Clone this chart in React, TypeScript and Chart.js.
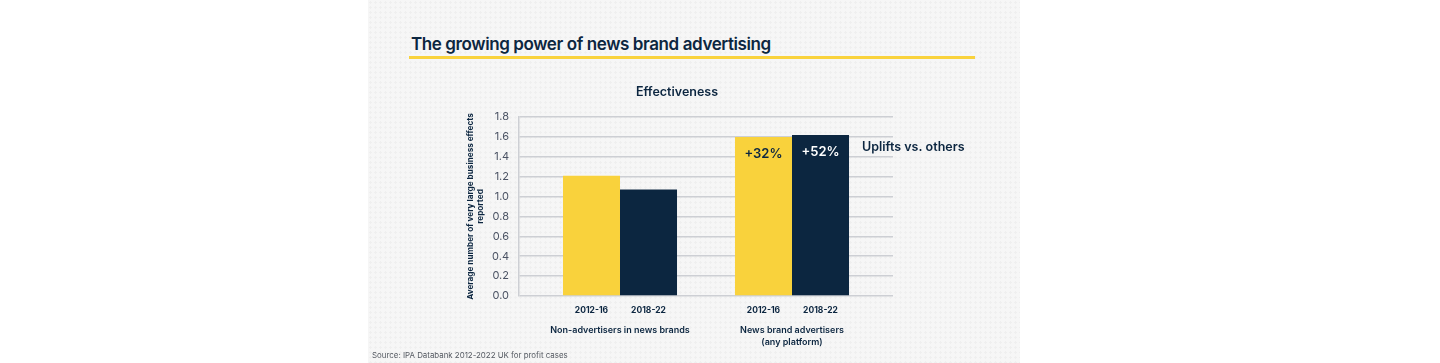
import React, { useEffect, useRef } from "react";
import { Chart, registerables } from "chart.js";

Chart.register(...registerables);

// ---- data ----
const groupLabels: (string | string[])[] = [
  "Non-advertisers in news brands",
  ["News brand advertisers", "(any platform)"],
];
const periods = ["2012-16", "2018-22"];
const groupPositions = [1, 2];
const values2012 = [1.21, 1.6];
const values2018 = [1.07, 1.62];
const uplifts2012 = ["", "+32%"];
const uplifts2018 = ["", "+52%"];
const noteText = "Uplifts vs. others";
const yMin = 0;
const yMax = 1.8;
const yStep = 0.2;

// ---- styles ----
const YELLOW = "#f9d23c";
const NAVY = "#0c2640";
const GRID = "#cdcfd4";
const FONT = "Inter, 'Noto Sans', sans-serif";
const CATEGORY_PCT = 0.663;
const X_MIN = 0.4128;
const X_MAX = 2.5872;

const upliftPlugin = {
  id: "upliftLabels",
  afterDatasetsDraw(chart: any) {
    const ctx = chart.ctx;
    ctx.save();
    ctx.textAlign = "center";
    ctx.textBaseline = "middle";
    ctx.font = `600 13px ${FONT}`;
    const sets = [uplifts2012, uplifts2018];
    const colors = [NAVY, "#ffffff"];
    chart.data.datasets.forEach((_ds: any, di: number) => {
      const meta = chart.getDatasetMeta(di);
      meta.data.forEach((bar: any, i: number) => {
        const t = sets[di][i];
        if (!t) return;
        ctx.fillStyle = colors[di];
        ctx.fillText(t, bar.x, bar.y + 17);
      });
    });
    const meta = chart.getDatasetMeta(chart.data.datasets.length - 1);
    const last = meta.data[meta.data.length - 1];
    ctx.font = `600 12.5px ${FONT}`;
    ctx.textAlign = "left";
    ctx.fillStyle = NAVY;
    ctx.fillText(noteText, last.x + last.width / 2 + 13, last.y + 12.5);
    ctx.restore();
  },
};

export default function App() {
  const canvasRef = useRef<HTMLCanvasElement | null>(null);

  useEffect(() => {
    if (!canvasRef.current) return;
    const barOffset = CATEGORY_PCT / 4;
    const periodTicks: number[] = [];
    groupPositions.forEach((g) => {
      periodTicks.push(g - barOffset, g + barOffset);
    });

    const chart = new Chart(canvasRef.current, {
      type: "bar",
      data: {
        datasets: [
          {
            label: periods[0],
            data: values2012.map((v, i) => ({ x: groupPositions[i], y: v })),
            backgroundColor: YELLOW,
            borderWidth: 0,
            categoryPercentage: CATEGORY_PCT,
            barPercentage: 1,
          },
          {
            label: periods[1],
            data: values2018.map((v, i) => ({ x: groupPositions[i], y: v })),
            backgroundColor: NAVY,
            borderWidth: 0,
            categoryPercentage: CATEGORY_PCT,
            barPercentage: 1,
          },
        ],
      } as any,
      options: {
        animation: false,
        responsive: false,
        maintainAspectRatio: false,
        layout: { padding: { left: 11, right: 97, top: 0, bottom: 0 } },
        plugins: {
          legend: { display: false },
          tooltip: { enabled: false },
          title: {
            display: true,
            text: "Effectiveness",
            color: NAVY,
            font: { family: FONT, size: 12.5, weight: "600" },
            padding: { top: 10, bottom: 17 },
          },
        },
        scales: {
          x: {
            type: "linear",
            position: "bottom",
            offset: false,
            weight: 1,
            min: X_MIN,
            max: X_MAX,
            grid: { display: false, drawTicks: false, offset: false },
            border: { display: false },
            afterBuildTicks: (axis: any) => {
              axis.ticks = groupPositions.map((v) => ({ value: v }));
            },
            afterFit: (axis: any) => {
              axis.height = 42;
            },
            ticks: {
              autoSkip: false,
              maxRotation: 0,
              padding: 4,
              color: NAVY,
              font: { family: FONT, size: 9, weight: "600", lineHeight: 1.25 },
              callback: (_v: any, i: number) => groupLabels[i] as any,
            },
          },
          xp: {
            type: "linear",
            position: "bottom",
            offset: false,
            weight: 0,
            min: X_MIN,
            max: X_MAX,
            grid: { display: false, drawTicks: false, offset: false },
            border: { display: false },
            afterBuildTicks: (axis: any) => {
              axis.ticks = periodTicks.map((v) => ({ value: v }));
            },
            afterFit: (axis: any) => {
              axis.height = 25;
            },
            ticks: {
              autoSkip: false,
              maxRotation: 0,
              padding: 9,
              color: NAVY,
              font: { family: FONT, size: 8.5, weight: "700", lineHeight: 1.2 },
              callback: (_v: any, i: number) => periods[i % periods.length],
            },
          },
          y: {
            type: "linear",
            min: yMin,
            max: yMax,
            afterFit: (axis: any) => {
              axis.width = 58;
            },
            grid: { color: GRID, lineWidth: 1.5, drawTicks: false },
            border: { display: true, color: GRID, width: 1.5 },
            ticks: {
              stepSize: yStep,
              padding: 10,
              color: "#4a5263",
              font: { family: FONT, size: 11 },
              callback: (v: any) => Number(v).toFixed(1),
            },
            title: {
              display: true,
              text: ["Average number of very large business effects", "reported"],
              color: NAVY,
              font: { family: FONT, size: 8.2, weight: "700", lineHeight: 1.22 },
              padding: { top: 5, bottom: 0 },
            },
          },
        },
      } as any,
      plugins: [upliftPlugin],
    });
    return () => chart.destroy();
  }, []);

  return (
    <div
      style={{
        position: "absolute",
        left: 0,
        top: 0,
        width: 1440,
        height: 363,
        background: "#ffffff",
        overflow: "hidden",
        fontFamily: FONT,
      }}
    >
      <div
        style={{
          position: "absolute",
          left: 368,
          top: 0,
          width: 652,
          height: 363,
          backgroundColor: "#f6f6f6",
          backgroundImage: "radial-gradient(#efefef 1.2px, transparent 1.3px)",
          backgroundSize: "5px 5px",
        }}
      />
      <div
        style={{
          position: "absolute",
          left: 411,
          top: 33,
          fontSize: 17,
          fontWeight: 600,
          letterSpacing: "-0.4px",
          color: NAVY,
          whiteSpace: "nowrap",
          lineHeight: "22px",
        }}
      >
        The growing power of news brand advertising
      </div>
      <div
        style={{
          position: "absolute",
          left: 409,
          top: 55.5,
          width: 566,
          height: 3.5,
          background: YELLOW,
        }}
      />
      <canvas
        ref={canvasRef}
        width={540}
        height={288}
        style={{ position: "absolute", left: 450, top: 75, width: 540, height: 288 }}
      />
      <div
        style={{
          position: "absolute",
          left: 372,
          top: 349,
          fontSize: 7.9,
          color: "#555a62",
          whiteSpace: "nowrap",
          lineHeight: "12px",
        }}
      >
        Source: IPA Databank 2012-2022 UK for profit cases
      </div>
    </div>
  );
}
